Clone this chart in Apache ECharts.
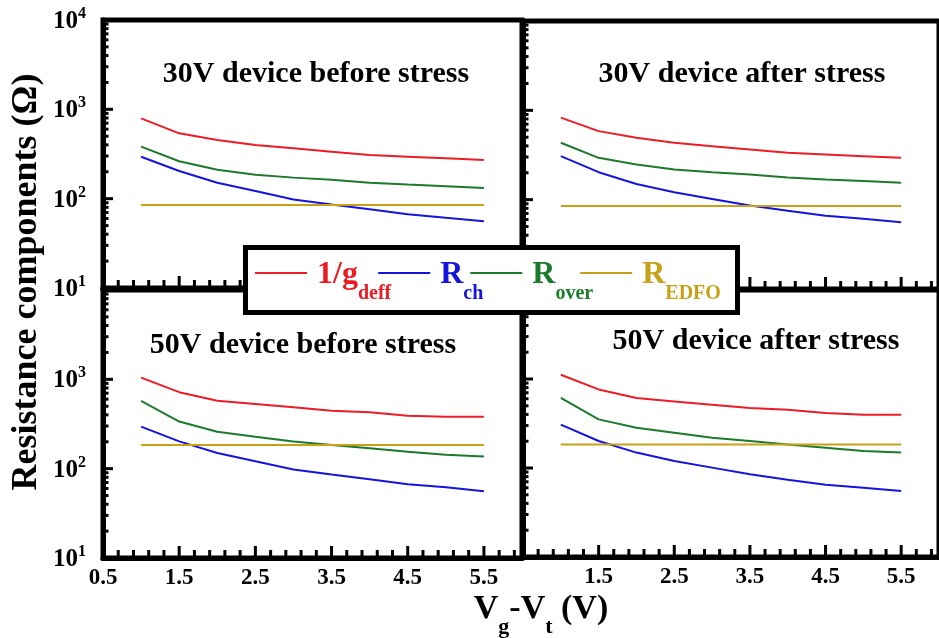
<!DOCTYPE html>
<html><head><meta charset="utf-8">
<script src="https://cdn.jsdelivr.net/npm/echarts@6/dist/echarts.min.js"></script>
<style>html,body{margin:0;padding:0;background:#fff}#c{width:939px;height:638px}</style>
</head><body><div id="c"></div>
<script>
// ---------------- data ----------------
const xVals = [1.0, 1.5, 2.0, 2.5, 3.0, 3.5, 4.0, 4.5, 5.0, 5.5];
const seriesNames = ['1/gdeff', 'Rch', 'Rover', 'REDFO'];
const panelTitles = ['30V device before stress', '30V device after stress', '50V device before stress', '50V device after stress'];

// 30V device before stress
const v30b_gdeff = [793, 539, 454, 399, 366, 336, 308, 295, 283, 271];
const v30b_rch   = [295, 204, 151, 122, 98, 86, 76, 67, 61, 56];
const v30b_rover = [382, 262, 211, 185, 172, 163, 151, 144, 138, 132];
const v30b_redfo = [85, 85, 85, 85, 85, 85, 85, 85, 85, 85];
// 30V device after stress
const v30a_gdeff = [828, 585, 493, 433, 397, 365, 335, 321, 307, 294];
const v30a_rch   = [307, 203, 150, 121, 102, 86, 75, 66, 61, 56];
const v30a_rover = [434, 294, 248, 217, 203, 191, 177, 168, 162, 155];
const v30a_redfo = [85, 85, 85, 85, 85, 85, 85, 85, 85, 85];
// 50V device before stress
const v50b_gdeff = [1045, 718, 575, 529, 486, 446, 428, 392, 380, 380];
const v50b_rch   = [296, 202, 150, 121, 98, 86, 76, 67, 62, 56];
const v50b_rover = [575, 337, 259, 228, 201, 184, 169, 155, 143, 137];
const v50b_redfo = [184, 184, 184, 184, 184, 184, 184, 184, 184, 184];
// 50V device after stress
const v50a_gdeff = [1117, 764, 612, 560, 514, 472, 452, 415, 397, 397];
const v50a_rch   = [307, 201, 149, 120, 101, 85, 74, 65, 60, 55];
const v50a_rover = [612, 352, 284, 249, 219, 201, 184, 169, 155, 149];
const v50a_redfo = [184, 184, 184, 184, 184, 184, 184, 184, 184, 184];

const panelData = [
  [v30b_gdeff, v30b_rch, v30b_rover, v30b_redfo],
  [v30a_gdeff, v30a_rch, v30a_rover, v30a_redfo],
  [v50b_gdeff, v50b_rch, v50b_rover, v50b_redfo],
  [v50a_gdeff, v50a_rch, v50a_rover, v50a_redfo]
];

// tick values / labels
const xMajorTicks = [1.5, 2.5, 3.5, 4.5, 5.5];
const xMinorTicks = [0.7, 0.9, 1.1, 1.3, 1.7, 1.9, 2.1, 2.3, 2.7, 2.9, 3.1, 3.3, 3.7, 3.9, 4.1, 4.3, 4.7, 4.9, 5.1, 5.3, 5.7, 5.9];
const xLabelsBL = [0.5, 1.5, 2.5, 3.5, 4.5, 5.5];
const xLabelsBR = [1.5, 2.5, 3.5, 4.5, 5.5];
const yMajorTicks = [100, 1000];
const yMinorTicks = [20, 30, 40, 50, 60, 70, 80, 90, 200, 300, 400, 500, 600, 700, 800, 900, 2000, 3000, 4000, 5000, 6000, 7000, 8000, 9000];
const yLabelsTop = [10, 100, 1000, 10000];
const yLabelsBottom = [10, 100, 1000];

// ---------------- style ----------------
const colors = ['#ec1c24', '#1414dc', '#1b7a2c', '#c9a116'];
const FF = '"Liberation Serif","Times New Roman",serif';

const grids = [
  {left: 103, top: 20, width: 419, height: 268},
  {left: 523, top: 21, width: 422, height: 268},
  {left: 103, top: 290, width: 419, height: 268},
  {left: 523, top: 290, width: 422, height: 267}
];
const xLabelSets = [null, null, xLabelsBL, xLabelsBR];
const yLabelSets = [yLabelsTop, null, yLabelsBottom, null];
const X_MIN = 0.5, X_MAX = 6, Y_MIN = 10, Y_MAX = 10000;

const xAxes = [], yAxes = [], series = [];
grids.forEach((g, i) => {
  const xl = xLabelSets[i];
  xAxes.push({
    type: 'value', gridIndex: i, min: X_MIN, max: X_MAX, interval: 1,
    axisLine: {show: true, lineStyle: {color: '#000', width: 5}},
    axisTick: {show: false},
    axisLabel: xl ? {show: true, customValues: xl, formatter: v => Number(v).toFixed(1),
      color: '#000', fontFamily: FF, fontWeight: 'bold', fontSize: 23, margin: 9} : {show: false},
    splitLine: {show: false}
  });
  const yl = yLabelSets[i];
  yAxes.push({
    type: 'log', logBase: 10, gridIndex: i, min: Y_MIN, max: Y_MAX,
    axisLine: {show: true, lineStyle: {color: '#000', width: 5}},
    axisTick: {show: false},
    axisLabel: yl ? {show: true, customValues: yl, margin: 17,
      formatter: v => '{b|10}{s|' + Math.round(Math.log10(v)) + '}',
      rich: {
        b: {fontFamily: FF, fontWeight: 'bold', fontSize: 25, color: '#000', lineHeight: 28, verticalAlign: 'bottom'},
        s: {fontFamily: FF, fontWeight: 'bold', fontSize: 16, color: '#000', lineHeight: 28, verticalAlign: 'top'}
      }} : {show: false},
    splitLine: {show: false}
  });
  seriesNames.forEach((name, k) => {
    series.push({
      type: 'line', name: name, xAxisIndex: i, yAxisIndex: i,
      data: xVals.map((x, j) => [x, panelData[i][k][j]]),
      symbol: 'none', showSymbol: false, color: colors[k], lineStyle: {width: 2, color: colors[k]}
    });
  });
});

const legendLabels = {
  '1/gdeff': '{rm|1/g}{rs|deff}',
  'Rch': '{bm|R}{bs|ch}',
  'Rover': '{gm|R}{gs|over}',
  'REDFO': '{ym|R}{ys|EDFO}'
};
const legendRich = {};
['r', 'b', 'g', 'y'].forEach((p, k) => {
  legendRich[p + 'm'] = {fontFamily: FF, fontWeight: 'bold', fontSize: 32, color: colors[k], verticalAlign: 'top', padding: [17, 0, 0, 5]};
  legendRich[p + 's'] = {fontFamily: FF, fontWeight: 'bold', fontSize: 20, color: colors[k], verticalAlign: 'top', padding: [42, 0, 0, 0]};
});

const titlePos = [[316, 74], [742, 74], [303, 345], [756, 341]];
const graphics = titlePos.map((p, i) => ({
  type: 'text', x: p[0], y: p[1], z: 6,
  style: {text: panelTitles[i], fill: '#000', font: 'bold 30px ' + FF, align: 'center', verticalAlign: 'middle'}
}));
graphics.push({
  type: 'rect', z: 8,
  shape: {x: 245.5, y: 247.5, width: 492, height: 65},
  style: {fill: '#fff', stroke: '#000', lineWidth: 5}
});
graphics.push({
  type: 'text', x: 27, y: 282, rotation: Math.PI / 2, z: 6,
  style: {text: 'Resistance components (\u03A9)', fill: '#000', font: 'bold 36px ' + FF, align: 'center', verticalAlign: 'middle'}
});
graphics.push({
  type: 'text', x: 541, y: 592, z: 6,
  style: {
    text: '{m|V}{s|g}{m|-V}{s|t}{m| (V)}', align: 'center', verticalAlign: 'top',
    rich: {
      m: {fontFamily: FF, fontWeight: 'bold', fontSize: 34, fill: '#000', color: '#000', verticalAlign: 'top'},
      s: {fontFamily: FF, fontWeight: 'bold', fontSize: 22, fill: '#000', color: '#000', verticalAlign: 'top', padding: [24, 0, 0, 0]}
    }
  }
});

const chart = echarts.init(document.getElementById('c'), null, {renderer: 'canvas'});
chart.setOption({
  animation: false,
  grid: grids.map(g => Object.assign({show: true, borderColor: '#000', borderWidth: 5}, g)),
  xAxis: xAxes,
  yAxis: yAxes,
  legend: {
    data: seriesNames, left: 255, top: 259, padding: 0, itemGap: -13, itemWidth: 52, itemHeight: 2, icon: 'rect', z: 20,
    formatter: n => legendLabels[n], textStyle: {rich: legendRich}
  },
  graphic: graphics,
  series: series
});

// inside tick marks: positions come from the chart's own axis scales (convertToPixel)
const tickEls = [];
grids.forEach((g, i) => {
  const xTick = (v, len) => {
    const p = chart.convertToPixel({gridIndex: i}, [v, Y_MIN]);
    tickEls.push({type: 'rect', z: 5, silent: true, shape: {x: p[0] - 1.5, y: p[1] - len, width: 3, height: len}, style: {fill: '#000'}});
  };
  const yTick = (v, len) => {
    const p = chart.convertToPixel({gridIndex: i}, [X_MIN, v]);
    tickEls.push({type: 'rect', z: 5, silent: true, shape: {x: p[0], y: p[1] - 1.5, width: len, height: 3}, style: {fill: '#000'}});
  };
  xMajorTicks.forEach(v => xTick(v, 12));
  xMinorTicks.forEach(v => xTick(v, 8));
  yMajorTicks.forEach(v => yTick(v, 10));
  yMinorTicks.forEach(v => yTick(v, 5.5));
});
chart.setOption({graphic: graphics.concat(tickEls)});
</script></body></html>
